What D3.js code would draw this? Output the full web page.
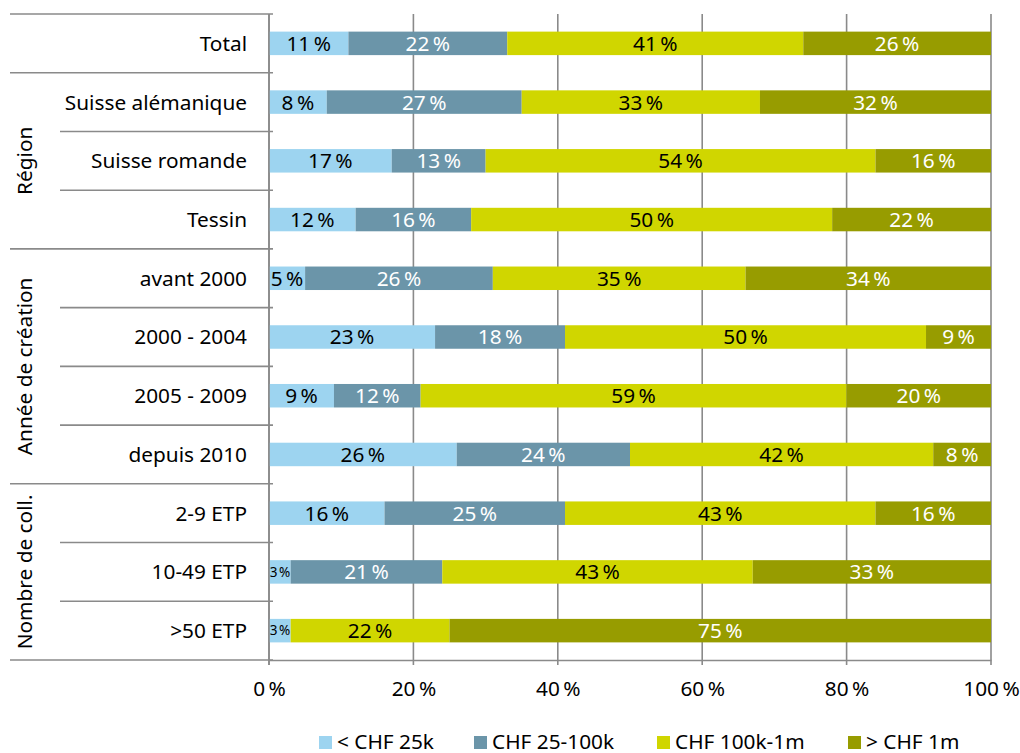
<!DOCTYPE html>
<html><head><meta charset="utf-8">
<script src="https://cdn.jsdelivr.net/npm/d3@7"></script>
<style>
body{margin:0;background:#fff;}
text{font-family:"Noto Sans","Open Sans",sans-serif;}
</style></head>
<body><svg id="c" width="1020" height="753"></svg>
<script>
const categories = ["Total","Suisse alémanique","Suisse romande","Tessin","avant 2000","2000 - 2004","2005 - 2009","depuis 2010","2-9 ETP","10-49 ETP",">50 ETP"];
const groups = [
  {name:"", members:["Total"]},
  {name:"Région", members:["Suisse alémanique","Suisse romande","Tessin"]},
  {name:"Année de création", members:["avant 2000","2000 - 2004","2005 - 2009","depuis 2010"]},
  {name:"Nombre de coll.", members:["2-9 ETP","10-49 ETP",">50 ETP"]}
];
const seriesNames = ["< CHF 25k","CHF 25-100k","CHF 100k-1m","> CHF 1m"];
const s1 = [11, 8, 17, 12, 5, 23, 9, 26, 16, 3, 3];
const s2 = [22, 27, 13, 16, 26, 18, 12, 24, 25, 21, 0];
const s3 = [41, 33, 54, 50, 35, 50, 59, 42, 43, 43, 22];
const s4 = [26, 32, 16, 22, 34, 9, 20, 8, 16, 33, 75];
const xTicks = [0,20,40,60,80,100];

const colors = ["#9dd4f0","#6b95a9","#d0d600","#979c00"];
const textColors = ["#000","#fff","#000","#fff"];
const series = [s1,s2,s3,s4];

const svg = d3.select("#c");
const x0 = 269, x1 = 991, yTop = 14, yBot = 660;
const FS = 20.8;
const x = d3.scaleLinear().domain([0,100]).range([x0,x1]);
const y = d3.scaleBand().domain(categories).range([yTop,yBot]).paddingInner(0.6).paddingOuter(0.3);
const step = y.step();

// gridlines
svg.append("g").selectAll("line").data(xTicks).join("line")
  .attr("x1",d=>x(d)).attr("x2",d=>x(d)).attr("y1",yTop).attr("y2",yBot+5)
  .attr("stroke","#8a8a8a").attr("stroke-width",1.6);

// bars
const stackData = categories.map((c,i)=>{
  let acc=0; return series.map((s,k)=>{const o={cat:c,k,v:s[i],start:acc}; acc+=s[i]; return o;});
});
const segs = stackData.flat();
svg.append("g").selectAll("rect").data(segs.filter(d=>d.v>0)).join("rect")
  .attr("x",d=>x(d.start)).attr("width",d=>x(d.start+d.v)-x(d.start))
  .attr("y",d=>y(d.cat)).attr("height",y.bandwidth())
  .attr("fill",d=>colors[d.k]);

// value labels
svg.append("g").selectAll("text").data(segs.filter(d=>d.v>0)).join("text")
  .attr("x",d=>x(d.start+d.v/2))
  .attr("y",d=>y(d.cat)+y.bandwidth()/2)
  .attr("dy","0.36em")
  .attr("text-anchor","middle")
  .attr("font-size",d=>d.v<=3?13.5:FS)
  .attr("letter-spacing",d=>d.v<=3?-0.3:0)
  .attr("fill",d=>textColors[d.k])
  .text(d=>d.v+"\u2009%");

// category labels
svg.append("g").selectAll("text").data(categories).join("text")
  .attr("x",247).attr("y",d=>y(d)+y.bandwidth()/2).attr("dy","0.36em")
  .attr("text-anchor","end").attr("font-size",FS).attr("fill","#000").text(d=>d);

// separator lines in label area
const boundary = c => y(c)+y.bandwidth()+step*0.3;
const sep = [{y:yTop,x:10}];
groups.forEach(g=>{
  g.members.forEach((m,j)=>{
    sep.push({y:boundary(m), x: j===g.members.length-1 ? 10 : 60});
  });
});
svg.append("g").selectAll("line").data(sep).join("line")
  .attr("x1",d=>d.x).attr("x2",x0+4).attr("y1",d=>d.y).attr("y2",d=>d.y)
  .attr("stroke","#8a8a8a").attr("stroke-width",1.6);

// vertical axis line
svg.append("line").attr("x1",x0).attr("x2",x0).attr("y1",yTop).attr("y2",yBot+5)
  .attr("stroke","#8a8a8a").attr("stroke-width",1.6);

// group labels rotated
groups.filter(g=>g.name).forEach(g=>{
  const top = y(g.members[0]) - step*0.3;
  const bot = boundary(g.members[g.members.length-1]);
  const cy = (top+bot)/2;
  svg.append("text").attr("transform",`translate(32,${cy}) rotate(-90)`)
    .attr("text-anchor","middle").attr("font-size",FS).attr("fill","#000").text(g.name);
});

// x axis labels
const ax = svg.append("g").attr("transform",`translate(0,${yBot})`)
  .call(d3.axisBottom(x).tickValues(xTicks).tickSize(0).tickPadding(21).tickFormat(d=>d+"\u2009%"));
ax.select(".domain").attr("stroke","#8a8a8a").attr("stroke-width",1.6);
ax.selectAll("text").attr("font-size",FS).attr("fill","#000").attr("font-family","'Noto Sans','Open Sans',sans-serif");

// legend
const legX = [319, 474, 657, 848];
const leg = svg.append("g").selectAll("g").data(seriesNames).join("g")
  .attr("transform",(d,i)=>`translate(${legX[i]},736)`);
leg.append("rect").attr("width",13).attr("height",13).attr("fill",(d,i)=>colors[i]);
leg.append("text").attr("x",18).attr("y",12.5).attr("font-size",FS).attr("fill","#000").text(d=>d);
</script></body></html>
